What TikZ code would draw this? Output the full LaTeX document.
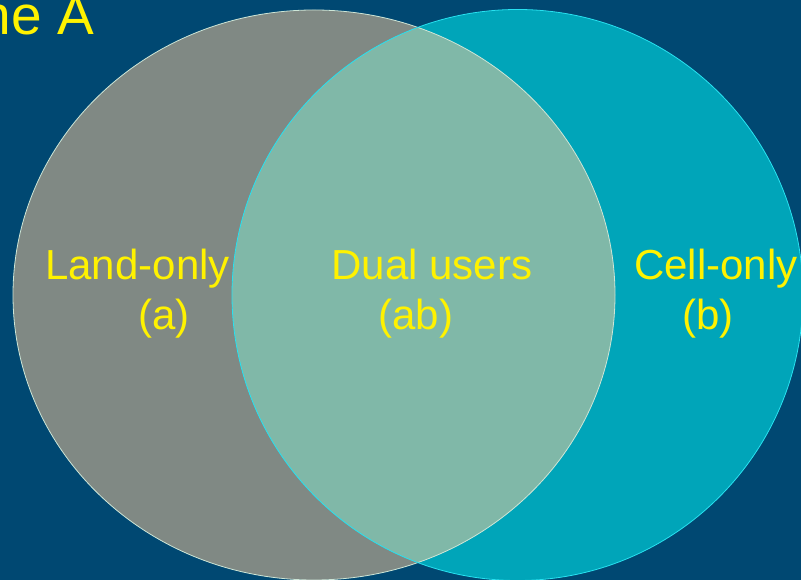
\documentclass[tikz,border=0pt]{standalone}
\usepackage{fontspec}
\setmainfont{Liberation Sans}
\usetikzlibrary{positioning}
\definecolor{fond}{RGB}{0,72,114}
\definecolor{gris}{RGB}{128,137,132}
\definecolor{turquoise}{RGB}{0,165,185}
\definecolor{vertclair}{RGB}{128,184,168}
\definecolor{bordclair}{RGB}{205,230,215}
\definecolor{bordcyan}{RGB}{40,225,240}
\tikzset{
    etiquette/.style={text=yellow,font=\fontsize{42}{50}\selectfont,inner sep=0pt,anchor=base},
    titre/.style={text=yellow,font=\fontsize{55}{60}\selectfont,inner sep=0pt,anchor=base east},
  }

\begin{document}
\begin{tikzpicture}[x=1pt,y=1pt]
				  %fond
				  \useasboundingbox (0,0) rectangle (801,580);
				  \clip (0,0) rectangle (801,580);
				  \fill[fond] (0,0) rectangle (801,580);
				  \node[titre] (T) at (94,545) {ne A};

				  %ensembles A et B
				  \coordinate (A) at (314,285);
				  \coordinate (B) at (517.5,285);
				  \fill[gris] (A) ellipse [x radius=301, y radius=285];
				  \fill[turquoise] (B) circle [radius=285.5];

				  %intersection
				  \begin{scope}
				    \clip (A) ellipse [x radius=301, y radius=285];
				    \fill[vertclair] (B) circle [radius=285.5];
				  \end{scope}
				  \draw[bordclair,line width=0.8pt] (A) ellipse [x radius=301, y radius=285];
				  \draw[bordcyan,line width=0.8pt] (B) circle [radius=285.5];

				  %textes
				  \node[etiquette] (la) at (137.5,300) {Land-only};
				  \node[etiquette] (a) at (164,250) {(a)};
				  \node[etiquette] (lab) at (432,300) {Dual users};
				  \node[etiquette] (ab) at (416,250) {(ab)};
				  \node[etiquette] (lb) at (716,300) {Cell-only};
				  \node[etiquette] (b) at (708,250) {(b)};
\end{tikzpicture}
\end{document}
